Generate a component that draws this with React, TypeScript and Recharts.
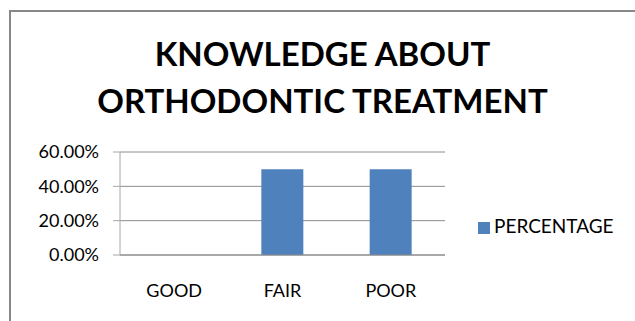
import React from 'react';
import { BarChart, Bar, XAxis, YAxis, CartesianGrid, Legend } from 'recharts';

const categories = ['GOOD', 'FAIR', 'POOR'];
const percentages = [0, 0.5, 0.5];
const yTicks = [0, 0.2, 0.4, 0.6];
const edgeTicks = [0, 1, 2, 3];
const titleLines = ['KNOWLEDGE ABOUT', 'ORTHODONTIC TREATMENT'];
const seriesName = 'PERCENTAGE';

const data = categories.map((c, i) => ({ category: c, value: percentages[i] }));

const font = 'Lato, "Open Sans", sans-serif';

export default function App() {
  const formatPct = (v: number) => (v * 100).toFixed(2) + '%';

  return (
    <div style={{ position: 'fixed', left: 0, top: 0, width: 635, height: 321, overflow: 'hidden', background: '#fff', fontFamily: font }}>
      <div style={{ position: 'absolute', left: 9, top: 10, width: 700, height: 400, border: '2px solid #888', boxSizing: 'border-box' }} />
      <div style={{ position: 'absolute', left: 0, top: 30, width: 645, textAlign: 'center', fontWeight: 700, fontSize: 33, lineHeight: '47px', color: '#000' }}>
        {titleLines.map((t) => (
          <div key={t}>{t}</div>
        ))}
      </div>
      <div style={{ position: 'absolute', left: 0, top: 0 }}>
        <BarChart
          width={635}
          height={321}
          data={data}
          margin={{ top: 152, right: 190, bottom: 0, left: 0 }}
          barCategoryGap={33}
        >
          <CartesianGrid horizontal vertical={false} stroke="#8c8c8c" />
          <XAxis
            dataKey="category"
            height={1}
            tickLine={false}
            tickSize={0}
            axisLine={{ stroke: '#8c8c8c' }}
            tickMargin={29}
            tick={{ fill: '#000', fontSize: 18, fontFamily: font }}
          />
          {/* edge axis: tick marks between the categories */}
          <XAxis
            xAxisId="edges"
            type="number"
            domain={[0, 3]}
            ticks={edgeTicks}
            allowDataOverflow
            height={65}
            tick={false}
            tickSize={7}
            tickLine={{ stroke: '#999' }}
            axisLine={false}
          />
          <YAxis
            width={120}
            domain={[0, 0.6]}
            ticks={yTicks}
            tickFormatter={formatPct}
            tickSize={7}
            tickMargin={14}
            axisLine={{ stroke: '#a6a6a6' }}
            tickLine={{ stroke: '#a6a6a6' }}
            tick={{ fill: '#000', fontSize: 18, fontFamily: font }}
          />
          <Legend
            layout="vertical"
            verticalAlign="middle"
            align="center"
            iconType="square"
            iconSize={12}
            wrapperStyle={{ position: 'absolute', left: 478, top: 214, width: 157, fontSize: 19, fontFamily: font }}
            formatter={(v: string) => <span style={{ color: '#000' }}>{v}</span>}
          />
          <Bar dataKey="value" name={seriesName} fill="#4f81bd" isAnimationActive={false} />
        </BarChart>
      </div>
    </div>
  );
}
